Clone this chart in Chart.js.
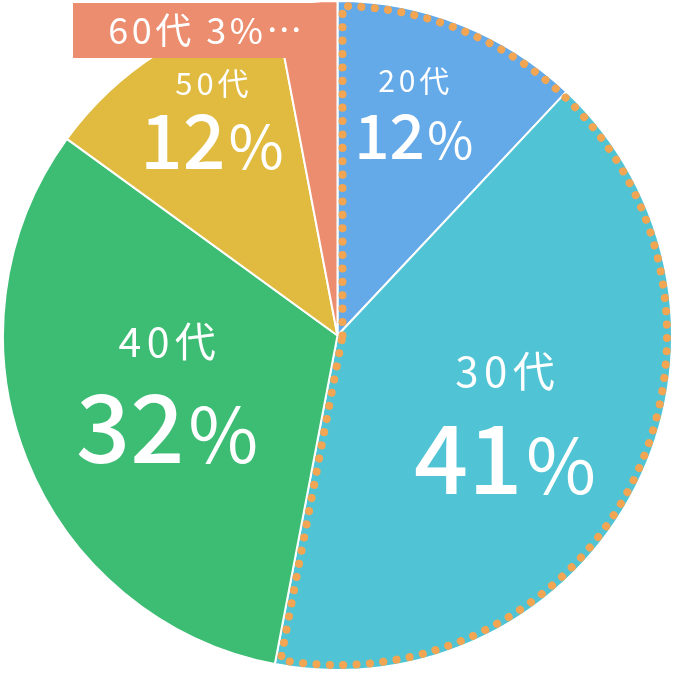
<!DOCTYPE html>
<html>
<head>
<meta charset="utf-8">
<script src="https://cdn.jsdelivr.net/npm/chart.js@4/dist/chart.umd.min.js"></script>
<style>
  html, body { margin: 0; padding: 0; background: #fff; }
  #wrap { width: 675px; height: 675px; }
</style>
</head>
<body>
<div id="wrap"><canvas id="ageChart" width="675" height="675"></canvas></div>
<script>
// data
const ageLabels = ['20代', '30代', '40代', '50代', '60代'];
const ageShares = [12, 41, 32, 12, 3];
const sliceColors = ['#64A9E8', '#50C4D4', '#3DBD74', '#E0BB40', '#EB8D6E'];
const highlighted = [0, 1]; // slices wrapped by the dotted outline

const FONT = '"Noto Sans CJK JP", "Noto Sans", sans-serif';

// label look per slice (sizes in px, rf = radius factor, da = angle nudge in degrees)
const labelStyle = [
  { small: 30, big: 62, gap: 56, rf: 0.715, da: -3 },
  { small: 42, big: 95, gap: 88, rf: 0.555, da: -1.5 },
  { small: 41, big: 95, gap: 87, rf: 0.53, da: 5.5 },
  { small: 31, big: 75, gap: 59, rf: 0.765, da: 3 },
  null
];

function spaced(ctx, text, x, y, spacing) {
  // centred text with letter spacing
  const chars = Array.from(text);
  const widths = chars.map(c => ctx.measureText(c).width);
  let total = spacing * (chars.length - 1);
  widths.forEach(w => total += w);
  let cur = x - total / 2;
  ctx.textAlign = 'left';
  chars.forEach((c, i) => {
    ctx.fillText(c, cur, y);
    cur += widths[i] + spacing;
  });
}

function percentText(ctx, value, x, y, size) {
  // bold digits, thinner and smaller percent sign
  const numFont = '500 ' + size + 'px ' + FONT;
  const pctFont = '400 ' + Math.round(size * 0.8) + 'px ' + FONT;
  ctx.font = numFont;
  const nw = ctx.measureText(String(value)).width;
  ctx.font = pctFont;
  const pw = ctx.measureText('%').width;
  const gap = size * 0.04;
  const left = x - (nw + gap + pw) / 2;
  ctx.textAlign = 'left';
  ctx.textBaseline = 'alphabetic';
  const base = y + size * 0.365;
  ctx.font = numFont;
  ctx.fillText(String(value), left, base);
  ctx.font = pctFont;
  ctx.fillText('%', left + nw + gap, base);
}

const pieLabels = {
  id: 'pieLabels',
  afterDatasetsDraw(chart) {
    const ctx = chart.ctx;
    const arcs = chart.getDatasetMeta(0).data;
    ctx.save();
    ctx.fillStyle = '#fff';

    arcs.forEach((arc, i) => {
      const st = labelStyle[i];
      if (!st) return;
      const mid = (arc.startAngle + arc.endAngle) / 2 + st.da * Math.PI / 180;
      const r = arc.outerRadius * st.rf;
      const x = arc.x + Math.cos(mid) * r;
      const y = arc.y + Math.sin(mid) * r;
      ctx.font = '400 ' + st.small + 'px ' + FONT;
      ctx.textBaseline = 'middle';
      spaced(ctx, ageLabels[i], x, y - st.gap / 2, st.small * 0.13);
      percentText(ctx, ageShares[i], x, y + st.gap / 2, st.big);
    });

    // small slice label box at the top
    const last = arcs[arcs.length - 1];
    const bx = 73, by = 3, bw = last.x - 2 - bx, bh = 55;
    ctx.fillStyle = sliceColors[4];
    ctx.fillRect(bx, by, bw, bh);
    ctx.fillStyle = '#fff';
    ctx.font = '400 36px ' + FONT;
    ctx.textBaseline = 'middle';
    spaced(ctx, ageLabels[4] + ' ' + ageShares[4] + '%…', bx + bw / 2 + 1, by + bh / 2, 3.5);

    // dotted outline around highlighted slices
    const a0 = arcs[highlighted[0]];
    const a1 = arcs[highlighted[highlighted.length - 1]];
    const inset = 5;
    const R = a0.outerRadius - inset;
    const sa = a0.startAngle, ea = a1.endAngle;
    const cx = a0.x, cy = a0.y;
    const sx = cx + Math.cos(sa + Math.PI / 2) * inset;
    const sy = cy + Math.sin(sa + Math.PI / 2) * inset;
    const ex = cx + Math.cos(ea - Math.PI / 2) * inset;
    const ey = cy + Math.sin(ea - Math.PI / 2) * inset;
    const dsa = sa + Math.asin(inset / R);
    const dea = ea - Math.asin(inset / R);
    ctx.beginPath();
    ctx.moveTo(sx, sy);
    ctx.arc(cx, cy, R, dsa, dea);
    ctx.lineTo(ex, ey);
    ctx.closePath();
    ctx.strokeStyle = '#F2A553';
    ctx.lineWidth = 8;
    ctx.lineCap = 'round';
    ctx.setLineDash([0.1, 13.3]);
    ctx.stroke();
    ctx.restore();
  }
};

new Chart(document.getElementById('ageChart'), {
  type: 'pie',
  data: {
    labels: ageLabels,
    datasets: [{
      data: ageShares,
      backgroundColor: sliceColors,
      borderColor: '#fff',
      borderWidth: 2
    }]
  },
  options: {
    responsive: false,
    animation: false,
    events: [],
    layout: { padding: { top: 0, bottom: 4, left: 1, right: 1 } },
    plugins: {
      legend: { display: false },
      tooltip: { enabled: false }
    }
  },
  plugins: [pieLabels]
});
</script>
</body>
</html>
